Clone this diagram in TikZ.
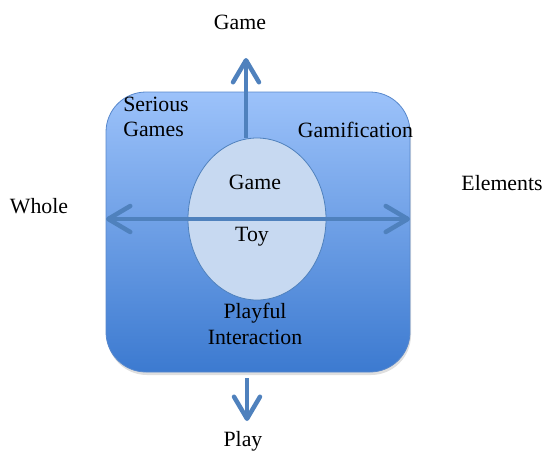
\documentclass[tikz,border=0pt]{standalone}
\usepackage{fontspec}
\setmainfont{Liberation Serif}
\usepackage{tikz}
\usetikzlibrary{arrows.meta, shapes.geometric, shadows}
\definecolor{boxtop}{RGB}{156,194,250}
\definecolor{boxbottom}{RGB}{60,122,208}
\definecolor{boxline}{RGB}{88,136,204}
\definecolor{axisblue}{RGB}{79,129,189}
\definecolor{corefill}{RGB}{199,217,241}

\begin{document}
\begin{tikzpicture}[
    x=1pt, y=-1pt,
    tag/.style={font=\fontsize{21.8}{25.5}\selectfont, align=center, inner sep=0pt},
    panel/.style={rectangle, rounded corners=40pt, draw=boxline, line width=0.8pt, top color=boxtop, bottom color=boxbottom, minimum width=304pt, minimum height=280pt, drop shadow={shadow xshift=1pt, shadow yshift=-3pt, opacity=0.25}},
    core/.style={ellipse, draw=axisblue, line width=0.8pt, fill=corefill, minimum width=138pt, minimum height=162pt, inner sep=0pt},
    axis/.style={line width=4.5pt, draw=axisblue, -{Straight Barb[length=22pt, width=26pt, round]}},
    daxis/.style={axis, {Straight Barb[length=22pt, width=26pt, round]}-{Straight Barb[length=22pt, width=26pt, round]}},
]
\useasboundingbox (0,0) rectangle (544,451);

% === Background square and centre ellipse ===
\node[panel] (frame) at (258,232) {};
\node[core] (centre) at (257,219) {};

% === Arrow end points ===
\coordinate (gametip) at (246,58);
\coordinate (wholetip) at (106,219);
\coordinate (elemtip) at (410,219);
\coordinate (playtop) at (247,378);
\coordinate (playtip) at (247,421);

% === Axes ===
\draw[axis] (centre.north -| gametip) -- (gametip);
\draw[daxis] (wholetip) -- (elemtip);
\draw[axis] (playtop) -- (playtip);

% === Axis labels ===
\node[tag] (gametop) at (240,22) {Game};
\node[tag] (whole) at (39,206) {Whole};
\node[tag] (elements) at (502,183) {Elements};
\node[tag] (play) at (243,441) {Play};

% === Quadrant labels ===
\node[tag, align=left] (serious) at (156,117) {Serious\\Games};
\node[tag] (gamif) at (355.5,130) {Gamification};
\node[tag] (coregame) at (255,182) {Game};
\node[tag] (toy) at (252,237) {Toy};
\node[tag] (playful) at (255,324) {Playful\\Interaction};

\end{tikzpicture}
\end{document}
